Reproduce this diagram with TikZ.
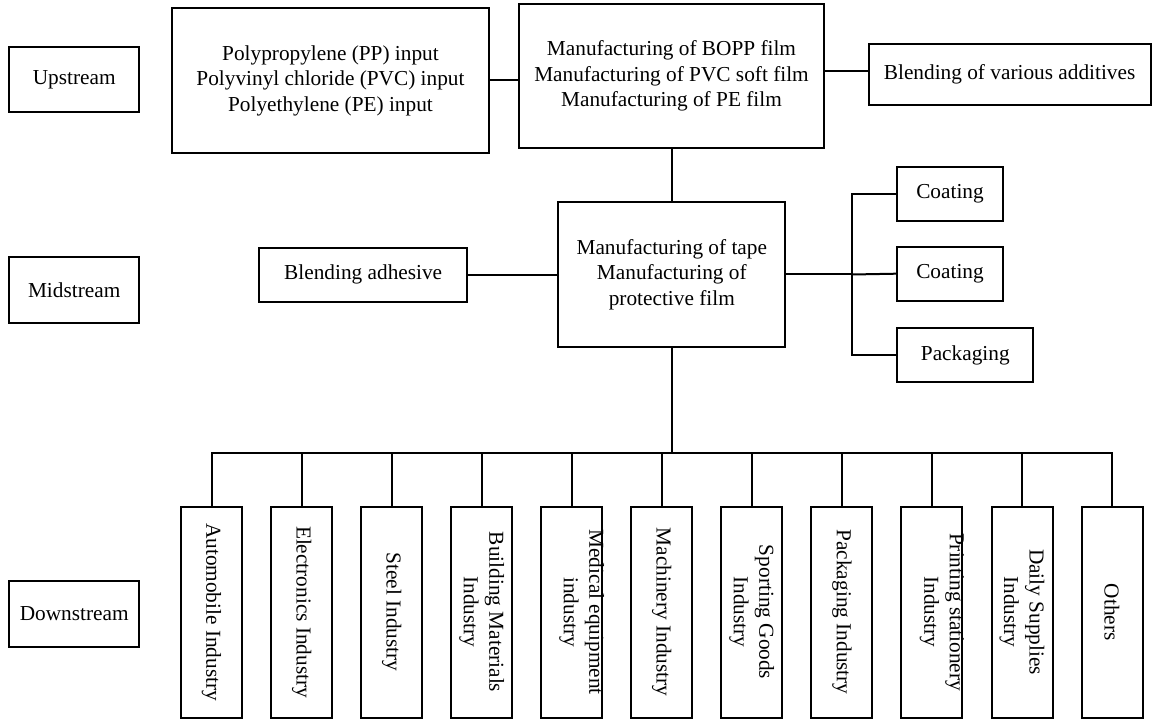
\documentclass[tikz,border=0pt]{standalone}
\usepackage{fontspec}
\setmainfont{Liberation Serif}
\begin{document}
\begin{tikzpicture}[x=1pt,y=-1pt,line width=2pt,
  box/.style={draw, rectangle, inner sep=0pt, align=center, font=\fontsize{21.3}{25.5}\selectfont},
  vbox/.style={box, rotate=-90, minimum width=211, minimum height=61},
  vtext/.style={rotate=-90, inner sep=0pt, align=center, font=\fontsize{21.3}{25.5}\selectfont},
  conn/.style={draw, line width=2pt}]
\useasboundingbox (0,0) rectangle (1152,719);
% stage labels
\node[box, minimum width=129.7, minimum height=65.3] (up) at (74.2,79.3) {Upstream};
\node[box, minimum width=129.7, minimum height=65.7] (mid) at (74.2,289.8) {Midstream};
\node[box, minimum width=129.7, minimum height=66] (down) at (74.2,613.7) {Downstream};
% upstream
\node[box, minimum width=317, minimum height=144.4] (pp) at (330.5,80.5)
  {Polypropylene (PP) input\\Polyvinyl chloride (PVC) input\\Polyethylene (PE) input};
\node[box, minimum width=305, minimum height=143.7] (bopp) at (671.5,75.9)
  {Manufacturing of BOPP film\\Manufacturing of PVC soft film\\Manufacturing of PE film};
\node[box, minimum width=281.8, minimum height=60.7] (add) at (1009.6,74.7) {Blending of various additives};
% midstream
\node[box, minimum width=208.3, minimum height=54] (adh) at (363.2,274.7) {Blending adhesive};
\node[box, minimum width=227, minimum height=144.7] (tape) at (671.8,274.3)
  {Manufacturing of tape\\Manufacturing of\\protective film};
\node[box, minimum width=105.4, minimum height=53.7] (coat1) at (950,194.2) {Coating};
\node[box, minimum width=105.4, minimum height=54] (coat2) at (950,273.7) {Coating};
\node[box, minimum width=136, minimum height=53.7] (pack) at (965.3,355.2) {Packaging};
% downstream
\node[vbox] (b1) at (211.5,612.1) {Automobile Industry};
\node[vbox] (b2) at (301.6,612.1) {Electronics Industry};
\node[vbox] (b3) at (391.6,612.1) {Steel Industry};
\node[vbox] (b4) at (481.7,612.1) {Building Materials\\Industry};
\node[vbox] (b5) at (571.7,612.1) {};
\node[vtext] (t5) at ([xshift=10pt]b5.center) {Medical equipment\\industry};
\node[vbox] (b6) at (661.8,612.1) {Machinery Industry};
\node[vbox] (b7) at (751.8,612.1) {Sporting Goods\\Industry};
\node[vbox] (b8) at (841.9,612.1) {Packaging Industry};
\node[vbox] (b9) at (931.9,612.1) {};
\node[vtext] (t9) at ([xshift=10pt]b9.center) {Printing stationery\\Industry};
\node[vbox] (b10) at (1022,612.1) {Daily Supplies\\Industry};
\node[vbox] (b11) at (1112,612.1) {Others};
% connectors
\coordinate (rj) at (852,274.5);
\coordinate (bus) at (672,452.7);
\draw[conn] (pp.east) -- (pp.east -| bopp.west);
\draw[conn] ([yshift=5.2pt]bopp.east) -- ([yshift=5.2pt]bopp.east -| add.west);
\draw[conn] (bopp.south) -- (bopp.south |- tape.north);
\draw[conn] (adh.east) -- (adh.east -| tape.west);
\draw[conn] (tape.east) -- (tape.east -| rj);
\draw[conn] (coat1.west) -| (rj) |- (pack.west);
\draw[conn] (rj) -- (coat2.west);
\draw[conn] (tape.south) -- (tape.south |- bus);
\draw[conn] (b1.west) -- (b1.west |- bus) -- (b11.west |- bus) -- (b11.west);
\foreach \i in {2,...,10} {\draw[conn] (b\i.west) -- (b\i.west |- bus);}
\end{tikzpicture}
\end{document}
